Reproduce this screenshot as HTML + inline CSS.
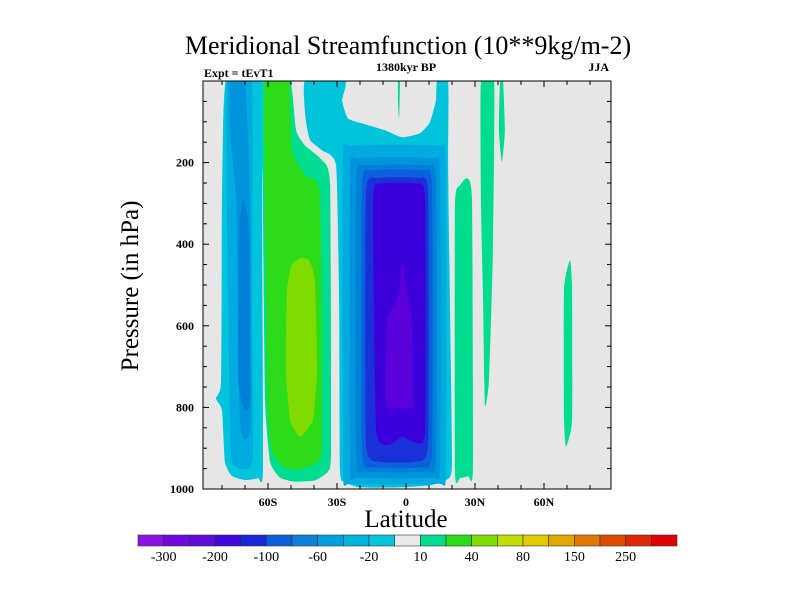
<!DOCTYPE html>
<html><head><meta charset="utf-8">
<style>
html,body{margin:0;padding:0;background:#fff;}
svg{display:block;font-family:"Liberation Serif",serif;}
</style></head>
<body>
<svg id="chart" width="800" height="600" viewBox="0 0 800 600">
<text x="408" y="54" font-size="26" text-anchor="middle">Meridional Streamfunction (10**9kg/m-2)</text>
<text x="204" y="77" font-size="12" font-weight="bold">Expt = tEvT1</text>
<text x="406" y="71" font-size="12" font-weight="bold" text-anchor="middle">1380kyr BP</text>
<text x="609" y="71" font-size="12" text-anchor="end" font-weight="bold">JJA</text>
<defs><clipPath id="pc"><rect x="203" y="81" width="408" height="408"/></clipPath></defs>
<rect x="203" y="81" width="408" height="408" fill="#e6e6e6"/>
<g id="contours" clip-path="url(#pc)"></g>
<g id="axes"></g>
<text x="406" y="527" font-size="25" text-anchor="middle">Latitude</text>
<text transform="translate(138,286) rotate(-90)" font-size="25" text-anchor="middle">Pressure (in hPa)</text>
<g id="colorbar"></g>
</svg>
<script>
const xTicks=[-60,-30,0,30,60];
const xTickLabels=['60S','30S','0','30N','60N'];
const yTicks=[200,400,600,800,1000];
const cbColors=['#8a14e0','#7008dc','#5e0cd8','#3c08dc','#1a28d8','#0a60dc','#0a80d8','#00a0e0','#00b4e0','#00c6dc','#e8e8e8','#00dc90','#2ddc18','#80dc00','#c0dc00','#e0cc00','#e0a800','#e07800','#e04a00','#e02800','#e00000'];
const cbLabels=['-300','-200','-100','-60','-20','10','40','80','150','250'];
const contourColors=['#00c3dc','#00abe0','#0094dc','#0080d8','#0c60dc','#1a30d8','#3c00dc','#5a00d8','#00dc90','#2ddc18','#80dc00'];
// contour regions: [colorIndex, [[lat, pressure],...]]
const leftOuter=[0,[[-78.3,0],[-62.6,0],[-62.6,293],[-62.2,954],[-64.3,973],[-70,978],[-75.7,968],[-78.7,934],[-80,807],[-82.6,778],[-80.4,734],[-80,293]]];
const leftL2=[1,[[-77.8,0],[-67,0],[-67,537],[-66.5,916],[-69.1,952],[-73,947],[-76.1,916],[-77.4,537]]];
const leftL3=[2,[[-76.5,0],[-70,0],[-67.8,292],[-67.4,830],[-70,879],[-72.2,830],[-73.9,292],[-76.5,121]]];
const leftL4=[3,[[-70.9,287],[-68.3,366],[-67.8,781],[-70.4,801],[-73,732],[-72.6,366]]];
const greenOuter=[8,[[-62.2,0],[-50.4,0],[-47.8,121],[-43.9,158],[-36.5,194],[-33,256],[-32.6,903],[-33.9,957],[-39.6,979],[-48.3,982],[-54.8,972],[-59.1,933],[-61.3,781],[-62.2,292]]];
const greenL2=[9,[[-61.3,0],[-50.9,0],[-49.6,170],[-43.9,231],[-37.4,280],[-36.5,879],[-38.3,933],[-46.1,952],[-52.6,947],[-58.3,908],[-60.4,781],[-61.3,292]]];
const greenL3=[10,[[-46.1,434],[-42.2,439],[-39.6,488],[-38.7,708],[-40.4,830],[-46.1,872],[-50.4,830],[-52.2,708],[-51.7,512],[-49.6,451]]];
const cyanBig=[0,[[-43.9,0],[-26.5,0],[-27.8,48],[-25.2,92],[-17.8,106],[-9.1,121],[-1.7,138],[6.1,128],[10.4,101],[13,48],[13.5,0],[18.3,0],[18.3,194],[19.1,537],[20,940],[17.8,977],[10.4,991],[-2.6,996],[-20,996],[-27,982],[-28.7,952],[-29.1,537],[-30.4,207],[-36.5,170],[-41.7,145],[-43.5,97]]];
const cellL1=[1,[[-23.9,158],[13.9,158],[17.4,194],[17.4,952],[13.9,987],[-23.9,987],[-27.4,952],[-27.4,194]]];
const cellL2=[2,[[-20.9,189],[11.3,189],[14.8,224],[14.8,940],[11.3,972],[-20.9,972],[-24.3,940],[-24.3,224]]];
const cellL3=[3,[[-17.4,207],[8.7,207],[13,243],[13,923],[8.7,957],[-17.4,957],[-21.7,923],[-21.7,243]]];
const cellL4=[4,[[-14.8,219],[7,219],[11.3,256],[11.3,908],[6.1,947],[-13.9,947],[-19.1,908],[-19.1,256]]];
const cellL5=[5,[[-12.2,238],[5.2,238],[9.6,273],[9.6,891],[3.5,933],[-11.3,933],[-17.4,891],[-17.4,273]]];
const cellL6=[6,[[-10.4,251],[4.3,251],[8.3,287],[8.3,855],[4.3,887],[-1.7,872],[-7,891],[-13,855],[-14.3,287]]];
const cellL7=[7,[[-1.7,444],[0.4,512],[2.6,586],[3,794],[-2.6,801],[-8.7,794],[-8.3,586],[-4.8,549],[-3,512]]];
const stripA=[8,[[26.5,238],[28.7,292],[29.1,952],[27,968],[23.5,973],[21.3,957],[21.3,305],[23.5,256]]];
const stripB=[8,[[32.6,0],[38.3,0],[37.8,414],[36.1,732],[34.3,794],[33.5,537],[32.6,292]]];
const stripC=[8,[[40.9,0],[42.2,0],[43,121],[41.7,199],[40.4,121]]];
const stripD=[8,[[71.3,439],[72.2,512],[72.2,830],[69.6,896],[68.7,830],[68.7,512]]];
const stripE=[8,[[-3.5,0],[-2.6,0],[-3,92],[-3.5,48]]];
const regions=[leftOuter,leftL2,leftL3,leftL4,greenOuter,greenL2,greenL3,cyanBig,cellL1,cellL2,cellL3,cellL4,cellL5,cellL6,cellL7,stripA,stripB,stripC,stripD,stripE];
const regionNames=['left-cell-outer','left-cell-level2','left-cell-level3','left-cell-core','green-cell-outer','green-cell-level2','green-cell-core','cyan-envelope','hadley-cell-level1','hadley-cell-level2','hadley-cell-level3','hadley-cell-level4','hadley-cell-level5','hadley-cell-level6','hadley-cell-core','strip-30n','strip-35n','strip-42n','strip-70n','strip-equator'];

const NS='http://www.w3.org/2000/svg';
const X0=203,X1=611,Y0=81,Y1=489;
function xS(lat){return 406+lat*2.3;}
function yS(p){return Y0+(p/1000)*(Y1-Y0);}
function mk(t,a,parent){const e=document.createElementNS(NS,t);for(const k in a)e.setAttribute(k,a[k]);parent.appendChild(e);return e;}
function smoothPath(pts){
  const n=pts.length;let d='M'+pts[0][0].toFixed(1)+','+pts[0][1].toFixed(1);
  for(let i=0;i<n;i++){
    const p0=pts[(i-1+n)%n],p1=pts[i],p2=pts[(i+1)%n],p3=pts[(i+2)%n];
    const t=0.08;
    const c1=[p1[0]+(p2[0]-p0[0])*t,p1[1]+(p2[1]-p0[1])*t];
    const c2=[p2[0]-(p3[0]-p1[0])*t,p2[1]-(p3[1]-p1[1])*t];
    d+='C'+c1[0].toFixed(1)+','+c1[1].toFixed(1)+' '+c2[0].toFixed(1)+','+c2[1].toFixed(1)+' '+p2[0].toFixed(1)+','+p2[1].toFixed(1);
  }
  return d+'Z';
}
const cg=document.getElementById('contours');
regions.forEach((r,i)=>{
  const pts=r[1].map(q=>[xS(q[0]),yS(q[1])]);
  const el=mk('path',{d:smoothPath(pts),fill:contourColors[r[0]]},cg);
  
  
});
const ag=document.getElementById('axes');
const fr=mk('rect',{x:X0,y:Y0,width:X1-X0,height:Y1-Y0,fill:'none',stroke:'#000','stroke-width':1},ag);


for(let lat=-80;lat<=80;lat+=10){
  const x=xS(lat);const major=lat%30===0;const L=major?6:4;
  mk('line',{x1:x,y1:Y1,x2:x,y2:Y1-L,stroke:'#000'},ag);
  mk('line',{x1:x,y1:Y0,x2:x,y2:Y0+L,stroke:'#000'},ag);
}
for(let p=50;p<1000;p+=50){
  const y=yS(p);const major=p%200===0;const L=major?6:4;
  mk('line',{x1:X0,y1:y,x2:X0+L,y2:y,stroke:'#000'},ag);
  mk('line',{x1:X1,y1:y,x2:X1-L,y2:y,stroke:'#000'},ag);
}
xTicks.forEach((v,i)=>{
  const t=mk('text',{x:xS(v),y:Y1+17,'font-size':12,'font-weight':'bold','text-anchor':'middle'},ag);
  t.textContent=xTickLabels[i];
  
  
});
yTicks.forEach(v=>{
  const t=mk('text',{x:X0-9,y:yS(v)+4,'font-size':12,'font-weight':'bold','text-anchor':'end'},ag);
  t.textContent=String(v);
  
  
});
const cb=document.getElementById('colorbar');
const cbX=138,cbW=539,cbY=535,cbH=11,bw=cbW/cbColors.length;
cbColors.forEach((c,i)=>{
  const r=mk('rect',{x:cbX+i*bw,y:cbY,width:bw,height:cbH,fill:c,stroke:'#333','stroke-width':0.6},cb);
  
  
});
cbLabels.forEach((l,i)=>{
  const t=mk('text',{x:cbX+(2*i+1)*bw,y:561,'font-size':14,'text-anchor':'middle'},cb);
  t.textContent=l;
  
  
});
</script>
</body></html>
